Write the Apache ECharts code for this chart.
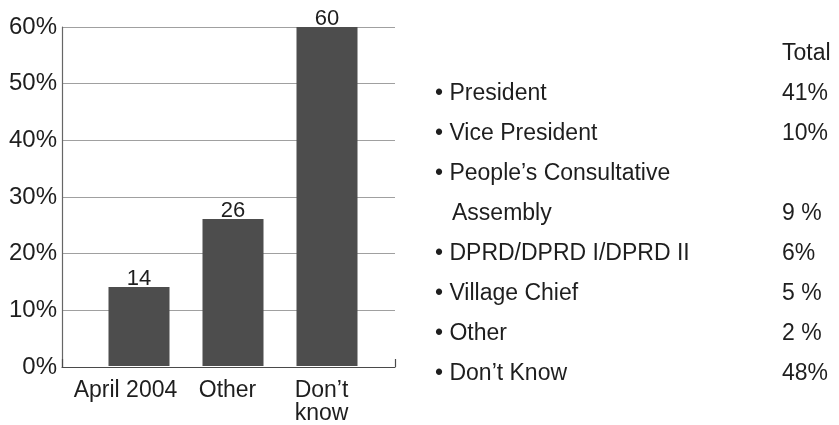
<!DOCTYPE html>
<html>
<head>
<meta charset="utf-8">
<script src="https://cdn.jsdelivr.net/npm/echarts@6/dist/echarts.min.js"></script>
<style>
html,body{margin:0;padding:0;background:#fff;}
#chart{width:839px;height:425px;}
</style>
</head>
<body>
<div id="chart"></div>
<script>
// ---- data ----
var categories = ['April 2004', 'Other', 'Don\u2019t\nknow'];
var values = [14, 26, 60];
var yTicks = [0, 10, 20, 30, 40, 50, 60];
var tableHeader = 'Total';
var tableLabels = ['\u2022 President', '\u2022 Vice President', '\u2022 People\u2019s Consultative', 'Assembly', '\u2022 DPRD/DPRD I/DPRD II', '\u2022 Village Chief', '\u2022 Other', '\u2022 Don\u2019t Know'];
var tableValues = ['41%', '10%', '', '9 %', '6%', '5 %', '2 %', '48%'];

var FONT = '"Liberation Sans", Arial, Helvetica, sans-serif';
var TXT = '#1e1e1e';

var chart = echarts.init(document.getElementById('chart'), null, {renderer: 'canvas'});

var graphics = [];
graphics.push({
  type: 'text', x: 782, y: 54,
  style: {text: tableHeader, fontSize: 23, fontFamily: FONT, fill: TXT, verticalAlign: 'middle', textVerticalAlign: 'middle'}
});
tableLabels.forEach(function (lab, i) {
  var cont = lab.charAt(0) !== '\u2022';
  graphics.push({
    type: 'text', x: cont ? 452 : 435, y: 94 + 40 * i,
    style: {text: lab, fontSize: 23, fontFamily: FONT, fill: TXT, verticalAlign: 'middle', textVerticalAlign: 'middle'}
  });
  if (tableValues[i]) {
    graphics.push({
      type: 'text', x: 782, y: 94 + 40 * i,
      style: {text: tableValues[i], fontSize: 23, fontFamily: FONT, fill: TXT, verticalAlign: 'middle', textVerticalAlign: 'middle'}
    });
  }
});

var catData = categories.map(function (c, i) {
  return i === 0 ? {value: c, textStyle: {padding: [0, 27, 0, 0]}} : c;
});

var option = {
  backgroundColor: '#ffffff',
  animation: false,
  grid: [
    {left: 62, width: 333, top: 27, height: 340},
    {left: 92, width: 282, top: 27, height: 340}
  ],
  xAxis: [
    {
      type: 'category', gridIndex: 0, data: [''], boundaryGap: true,
      axisLine: {show: true, lineStyle: {color: '#4a4a4a', width: 1.2}},
      axisTick: {show: true, inside: true, length: 8, lineStyle: {color: '#4a4a4a', width: 1.2}},
      axisLabel: {show: false},
      splitLine: {show: false}
    },
    {
      type: 'category', gridIndex: 1, data: catData,
      axisLine: {show: false}, axisTick: {show: false},
      axisLabel: {
        show: true, interval: 0, margin: 13, fontSize: 23, lineHeight: 23,
        fontFamily: FONT, color: TXT, padding: [0, 11, 0, 0]
      }
    }
  ],
  yAxis: [
    {
      type: 'value', gridIndex: 0, min: yTicks[0], max: yTicks[yTicks.length - 1], interval: yTicks[1] - yTicks[0],
      axisLine: {show: true, lineStyle: {color: '#666', width: 1.2}},
      axisTick: {show: false},
      axisLabel: {formatter: '{value}%', fontSize: 24, fontFamily: FONT, color: TXT, margin: 5},
      splitLine: {show: true, lineStyle: {color: '#a0a0a0', width: 1}}
    },
    {
      type: 'value', gridIndex: 1, min: yTicks[0], max: yTicks[yTicks.length - 1],
      show: false, splitLine: {show: false}
    }
  ],
  series: [{
    type: 'bar', xAxisIndex: 1, yAxisIndex: 1,
    data: values, barWidth: 61,
    itemStyle: {color: '#4d4d4d'},
    label: {show: true, position: 'top', distance: -3, fontSize: 22, fontFamily: FONT, color: TXT}
  }],
  graphic: graphics
};
chart.setOption(option);
</script>
</body>
</html>
